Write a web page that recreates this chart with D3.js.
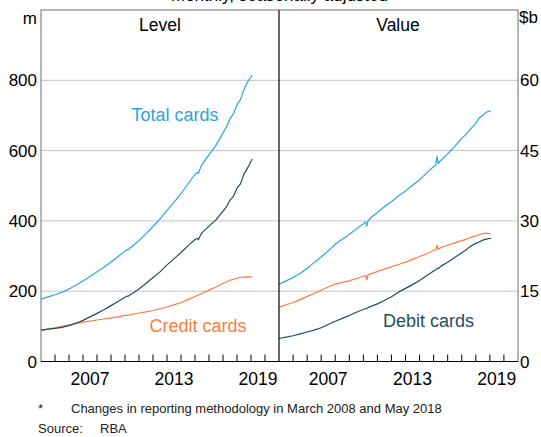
<!DOCTYPE html>
<html>
<head>
<meta charset="utf-8">
<script src="https://cdn.jsdelivr.net/npm/d3@7"></script>
<style>
  body { margin: 0; background: #fff; }
  svg { font-family: Arial, "Liberation Sans", sans-serif; }
</style>
</head>
<body>
<svg width="541" height="437"></svg>
<script>
var dates = ["2004-01", "2004-07", "2005-01", "2005-07", "2006-01", "2006-07",
  "2007-01", "2007-07", "2008-01", "2008-07", "2009-01", "2009-07",
  "2010-01", "2010-03", "2010-04", "2010-05", "2010-07", "2011-01", "2011-07",
  "2012-01", "2012-07", "2013-01", "2013-07", "2014-01", "2014-07",
  "2015-01", "2015-03", "2015-04", "2015-05", "2015-07", "2016-01", "2016-07",
  "2017-01", "2017-04", "2017-07", "2017-10", "2018-01", "2018-04", "2018-07",
  "2018-10", "2019-02"];

// Level, millions of cards
var levelTotal = [177, 184, 190, 197, 206, 217, 229, 242, 255, 268, 283, 298,
  314, 318, 318, 322, 327, 344, 363, 384, 405, 430, 453, 478, 505,
  532, 538, 535, 545, 560, 588, 615, 650, 668, 690, 705, 730, 745, 773, 795, 815];
var levelCredit = [88, 92, 96, 100, 104, 108, 112, 115, 118, 121, 124, 127,
  131, 131.5, 132, 132.5, 134, 138, 141, 145, 150, 155, 161, 168, 176,
  185, 188, 189, 191, 194, 203, 212, 222, 226, 231, 234, 237, 239, 240, 241, 240];
var levelDebit = [89, 92, 94, 97, 102, 109, 117, 127, 137, 147, 159, 171,
  183, 186, 186, 189, 193, 206, 222, 239, 255, 275, 292, 310, 329,
  347, 350, 347, 354, 366, 385, 403, 428, 440, 459, 470, 493, 505, 533, 550, 576];

// Value, $ billion
var valueTotal = [16.5, 17.2, 17.9, 18.8, 19.9, 21.1, 22.3, 23.6, 25.0, 26.1, 27.1, 28.3,
  29.4, 29.8, 28.9, 30.0, 30.6, 31.8, 33.0, 34.1, 35.3, 36.4, 37.6, 38.8, 40.2,
  41.6, 42.0, 43.8, 42.2, 42.9, 44.3, 45.9, 47.6, 48.3, 49.1, 50.0, 50.8, 52.0, 52.5, 53.2, 53.5];
var valueCredit = [11.6, 12.1, 12.6, 13.2, 13.9, 14.5, 15.2, 15.9, 16.5, 16.9, 17.2, 17.7,
  18.2, 18.4, 17.4, 18.5, 18.7, 19.2, 19.7, 20.2, 20.7, 21.2, 21.8, 22.4, 23.0,
  23.7, 23.8, 24.8, 23.9, 24.3, 24.8, 25.3, 25.8, 26.0, 26.3, 26.6, 26.8, 27.1, 27.3, 27.4, 27.2];
var valueDebit = [4.9, 5.2, 5.5, 5.9, 6.3, 6.7, 7.2, 7.9, 8.6, 9.2, 9.8, 10.5,
  11.1, 11.3, 11.3, 11.5, 11.7, 12.3, 13.0, 13.8, 14.8, 15.6, 16.4, 17.3, 18.3,
  19.3, 19.6, 19.9, 19.8, 20.3, 21.2, 22.2, 23.2, 23.7, 24.3, 24.8, 25.2, 25.5, 25.9, 26.1, 26.3];

var leftTicks = [0, 200, 400, 600, 800];
var rightTicks = [0, 15, 30, 45, 60];
var yearLabels = [2007, 2013, 2019];

var colors = { total: "#27a6de", credit: "#fd7b40", debit: "#1e4f5c" };

var svg = d3.select("svg");
var parse = d3.timeParse("%Y-%m");
var when = dates.map(parse);

// plot box (note: "top" is reserved on window, so use other names)
var xL = 41, xMid = 279, xR = 518, yTop = 10, yBot = 361.5;
var t0 = new Date(2004, 0, 1), t1 = new Date(2021, 0, 1);

var xLeft = d3.scaleTime().domain([t0, t1]).range([xL, xMid]);
var xRight = d3.scaleTime().domain([t0, t1]).range([xMid, xR]);
var yLeft = d3.scaleLinear().domain([0, 1000]).range([yBot, yTop]);
var yRight = d3.scaleLinear().domain([0, 75]).range([yBot, yTop]);

// gridlines
svg.append("g").selectAll("line")
  .data(leftTicks.filter(function(d) { return d > 0; }))
  .enter().append("line")
  .attr("x1", xL).attr("x2", xR)
  .attr("y1", function(d) { return yLeft(d); })
  .attr("y2", function(d) { return yLeft(d); })
  .attr("stroke", "#c4c4c4").attr("stroke-width", 1);

// lines
function drawLine(xs, ys, values, color) {
  var line = d3.line()
    .x(function(d, i) { return xs(when[i]); })
    .y(function(d) { return ys(d); });
  svg.append("path")
    .datum(values)
    .attr("d", line)
    .attr("fill", "none")
    .attr("stroke", color)
    .attr("stroke-width", 1.2)
    .attr("stroke-linejoin", "round");
}
drawLine(xLeft, yLeft, levelCredit, colors.credit);
drawLine(xLeft, yLeft, levelDebit, colors.debit);
drawLine(xLeft, yLeft, levelTotal, colors.total);
drawLine(xRight, yRight, valueCredit, colors.credit);
drawLine(xRight, yRight, valueDebit, colors.debit);
drawLine(xRight, yRight, valueTotal, colors.total);

// frame, divider and bottom axis
svg.append("rect")
  .attr("x", xL).attr("y", yTop)
  .attr("width", xR - xL).attr("height", yBot - yTop)
  .attr("fill", "none").attr("stroke", "#6e6e6e").attr("stroke-width", 1);
svg.append("line")
  .attr("x1", xMid).attr("x2", xMid).attr("y1", yTop).attr("y2", yBot)
  .attr("stroke", "#000").attr("stroke-width", 1.2);
svg.append("line")
  .attr("x1", xL).attr("x2", xR).attr("y1", yBot).attr("y2", yBot)
  .attr("stroke", "#000").attr("stroke-width", 1.2);

// year ticks pointing up into the plot
var years = d3.timeYear.range(new Date(2005, 0, 1), t1);
[xLeft, xRight].forEach(function(xs) {
  svg.append("g").selectAll("line")
    .data(years)
    .enter().append("line")
    .attr("x1", function(d) { return xs(d); })
    .attr("x2", function(d) { return xs(d); })
    .attr("y1", yBot).attr("y2", yBot - 7)
    .attr("stroke", "#000").attr("stroke-width", 1);

  svg.append("g").selectAll("text")
    .data(yearLabels)
    .enter().append("text")
    .attr("x", function(d) { return xs(new Date(d, 6, 1)); })
    .attr("y", 385)
    .attr("text-anchor", "middle")
    .attr("font-size", 17.5)
    .attr("fill", "#000")
    .text(function(d) { return d; });
});

// y tick labels
svg.append("g").selectAll("text")
  .data(leftTicks)
  .enter().append("text")
  .attr("x", 37)
  .attr("y", function(d) { return yLeft(d); })
  .attr("dy", "0.36em")
  .attr("text-anchor", "end")
  .attr("font-size", 17)
  .text(function(d) { return d; });

svg.append("g").selectAll("text")
  .data(rightTicks)
  .enter().append("text")
  .attr("x", 520)
  .attr("y", function(d) { return yRight(d); })
  .attr("dy", "0.36em")
  .attr("text-anchor", "start")
  .attr("font-size", 17)
  .text(function(d) { return d; });

// units
svg.append("text").attr("x", 37).attr("y", 24)
  .attr("text-anchor", "end").attr("font-size", 17).text("m");
svg.append("text").attr("x", 519).attr("y", 23)
  .attr("text-anchor", "start").attr("font-size", 17).text("$b");

// titles
svg.append("text").attr("x", 279.5).attr("y", 0.5)
  .attr("text-anchor", "middle").attr("font-size", 17).text("Monthly, seasonally adjusted");
svg.append("text").attr("x", 160).attr("y", 30.5)
  .attr("text-anchor", "middle").attr("font-size", 17.5).text("Level");
svg.append("text").attr("x", 398).attr("y", 30.5)
  .attr("text-anchor", "middle").attr("font-size", 17.5).text("Value");

// series labels
svg.append("text").attr("x", 175).attr("y", 120.5)
  .attr("text-anchor", "middle").attr("font-size", 18)
  .attr("fill", colors.total).text("Total cards");
svg.append("text").attr("x", 198).attr("y", 331.5)
  .attr("text-anchor", "middle").attr("font-size", 18)
  .attr("fill", colors.credit).text("Credit cards");
svg.append("text").attr("x", 428.5).attr("y", 326.5)
  .attr("text-anchor", "middle").attr("font-size", 18)
  .attr("fill", colors.debit).text("Debit cards");

// notes
var notes = svg.append("g").attr("font-size", 13).attr("fill", "#222");
notes.append("text").attr("x", 38).attr("y", 413).text("*");
notes.append("text").attr("x", 71).attr("y", 413)
  .text("Changes in reporting methodology in March 2008 and May 2018");
notes.append("text").attr("x", 38).attr("y", 433).text("Source:");
notes.append("text").attr("x", 100).attr("y", 433).text("RBA");
</script>
</body>
</html>
